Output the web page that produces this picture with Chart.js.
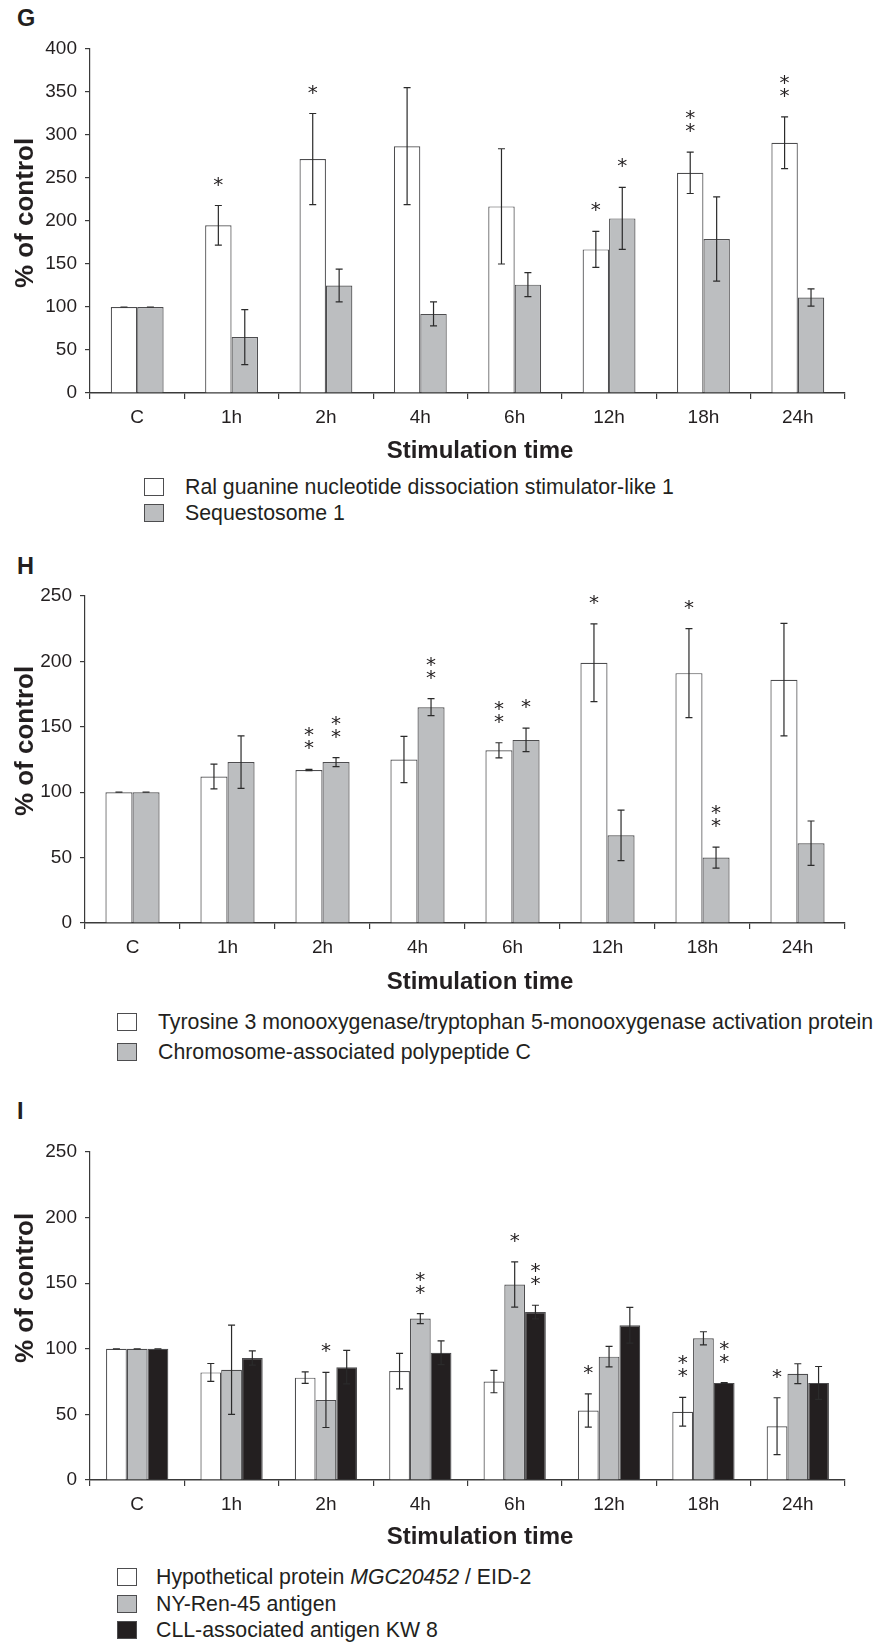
<!DOCTYPE html>
<html>
<head>
<meta charset="utf-8">
<title>Stimulation time course</title>
<script src="https://cdn.jsdelivr.net/npm/chart.js@4.4.1/dist/chart.umd.min.js"></script>
<style>
  body { margin: 0; background: #fff; }
  #page { position: relative; width: 877px; height: 1642px; overflow: hidden;
          font-family: 'Liberation Sans', Arial, sans-serif; color: #231f20; }
  .letter { position: absolute; left: 17px; font: bold 23.5px/1 'Liberation Sans', Arial, sans-serif; }
  #page canvas { position: absolute; left: 0; }
  .legend-row { position: absolute; height: 22px; display: flex; align-items: center;
                white-space: nowrap; font-size: 21.3px; line-height: 22px; }
  .legend-box { width: 20px; height: 18px; box-sizing: border-box; border: 1.3px solid #4d4d4f; }
</style>
</head>
<body>
<div id="page">
  <div class="letter" style="top:7px">G</div>
  <canvas id="chartG"></canvas>
  <div class="letter" style="top:555px">H</div>
  <canvas id="chartH"></canvas>
  <div class="letter" style="top:1100px">I</div>
  <canvas id="chartI"></canvas>
</div>
<script>
const timepoints = ['C', '1h', '2h', '4h', '6h', '12h', '18h', '24h'];

// panel G
const yTicksG = [0, 50, 100, 150, 200, 250, 300, 350, 400];
const ralgdsMean  = [100, 195, 272, 287, 217, 167, 256, 291];
const ralgdsSd    = [0, 23, 53, 68, 67, 21, 24, 30];
const ralgdsStars = [0, 1, 1, 0, 0, 1, 2, 2];
const sqstmMean   = [100, 65, 125, 92, 126, 203, 179, 111];
const sqstmSd     = [0, 32, 19, 14, 14, 36, 49, 10];
const sqstmStars  = [0, 0, 0, 0, 0, 1, 0, 0];

// panel H
const yTicksH = [0, 50, 100, 150, 200, 250];
const ywhazMean  = [100, 112, 117, 125, 132, 199, 191, 186];
const ywhazSd    = [0, 9.5, 0.5, 17.7, 5.8, 29.7, 34, 43];
const ywhazStars = [0, 0, 2, 0, 2, 1, 1, 0];
const capcMean   = [100, 123, 123, 165, 140, 67, 50, 61];
const capcSd     = [0, 20, 3.5, 6.5, 9, 19.3, 8, 17];
const capcStars  = [0, 0, 2, 2, 1, 0, 2, 0];

// panel I
const yTicksI = [0, 50, 100, 150, 200, 250];
const eid2Mean    = [100, 82, 78, 83, 75, 53, 52, 41];
const eid2Sd      = [0, 6.8, 4.4, 13.5, 8.5, 12.7, 11, 21.7];
const eid2Stars   = [0, 0, 0, 0, 0, 1, 2, 1];
const nyrenMean   = [100, 84, 61, 123, 149, 94, 108, 81];
const nyrenSd     = [0, 34, 21, 3.8, 17.3, 7.8, 5, 7.6];
const nyrenStars  = [0, 0, 1, 2, 1, 0, 0, 0];
const kw8Mean     = [100, 93, 86, 97, 128, 118, 74, 74];
const kw8Sd       = [0, 5.4, 12.8, 9, 5.2, 13.6, 0.3, 12.5];
const kw8Stars    = [0, 0, 0, 0, 2, 0, 2, 0];

const WHITE = '#ffffff', GREY = '#bcbec0', BLACK = '#231f20';
const INK = '#231f20';

Chart.defaults.font.family = "'Liberation Sans', Arial, sans-serif";
Chart.defaults.color = INK;

// whiskers (mean +/- SD) and significance asterisks above them
const errorBars = {
  id: 'errorBars',
  afterDatasetsDraw(chart) {
    const ctx = chart.ctx, y = chart.scales.y;
    ctx.save();
    chart.data.datasets.forEach((ds, i) => {
      chart.getDatasetMeta(i).data.forEach((bar, j) => {
        const hi = y.getPixelForValue(ds.data[j] + ds.sd[j]);
        const lo = y.getPixelForValue(ds.data[j] - ds.sd[j]);
        ctx.strokeStyle = '#2b2b2b';
        ctx.lineWidth = 1.2;
        ctx.beginPath();
        ctx.moveTo(bar.x, hi); ctx.lineTo(bar.x, lo);
        ctx.moveTo(bar.x - 3.5, hi); ctx.lineTo(bar.x + 3.5, hi);
        ctx.moveTo(bar.x - 3.5, lo); ctx.lineTo(bar.x + 3.5, lo);
        ctx.stroke();

        ctx.fillStyle = INK;
        ctx.font = '20px "DejaVu Sans"';
        ctx.textAlign = 'center';
        ctx.textBaseline = 'alphabetic';
        for (let k = 0; k < ds.stars[j]; k++) {
          const cy = hi - 26 - k * 13;
          ctx.fillText('*', bar.x, cy + 11);
        }
      });
    });
    ctx.restore();
  }
};

// axis captions: vertical one left of the ticks, horizontal one under the labels
const captions = {
  id: 'captions',
  afterDraw(chart, args, opts) {
    const ctx = chart.ctx;
    ctx.save();
    ctx.fillStyle = INK;
    ctx.textAlign = 'center';
    ctx.textBaseline = 'middle';

    ctx.font = 'bold 24px "Liberation Sans", Arial, sans-serif';
    ctx.fillText(opts.xText, opts.xTitleX, opts.xTitleY);

    ctx.font = 'bold 26px "Liberation Sans", Arial, sans-serif';
    ctx.translate(opts.yTitleX, opts.yTitleY);
    ctx.rotate(-Math.PI / 2);
    ctx.fillText(opts.yText, 0, 0);
    ctx.restore();
  }
};

function drawPanel(id, p) {
  const canvas = document.getElementById(id);
  const top = p.plotTop - 20;
  const height = p.bottom - top;
  canvas.width = 877;
  canvas.height = height;
  canvas.style.top = top + 'px';
  canvas.style.width = '877px';
  canvas.style.height = height + 'px';

  new Chart(canvas, {
    type: 'bar',
    data: {
      labels: timepoints,
      datasets: p.series.map(s => ({
        label: s.label,
        data: s.mean,
        sd: s.sd,
        stars: s.stars,
        backgroundColor: s.fill,
        borderColor: '#4d4d4f',
        borderWidth: 1.2,
        categoryPercentage: p.groupWidth,
        barPercentage: 1
      }))
    },
    options: {
      responsive: false,
      animation: false,
      devicePixelRatio: 1,
      layout: { padding: { top: 20, right: 877 - p.plotRight, left: 0, bottom: 0 } },
      plugins: {
        legend: { display: false },
        tooltip: { enabled: false },
        captions: {
          xText: 'Stimulation time', xTitleX: 480, xTitleY: p.captionY - top,
          yText: '% of control', yTitleX: 25.5, yTitleY: p.yTitleY - top
        }
      },
      scales: {
        x: {
          afterFit: s => { s.height = p.bottom - p.plotBottom; },
          border: { color: '#3a3a3a', width: 1.5 },
          grid: { offset: true, drawOnChartArea: false, drawTicks: true, tickLength: 6, color: '#3a3a3a', lineWidth: 1.2 },
          ticks: { font: { size: 19 }, color: INK, padding: 7 }
        },
        y: {
          min: 0,
          max: p.yTicks[p.yTicks.length - 1],
          afterBuildTicks: s => { s.ticks = p.yTicks.map(v => ({ value: v })); },
          afterFit: s => { s.width = p.plotLeft; },
          border: { color: '#3a3a3a', width: 1.2 },
          grid: { drawOnChartArea: false, drawTicks: true, tickLength: 5, color: '#3a3a3a', lineWidth: 1.2 },
          ticks: { font: { size: 19 }, color: INK, padding: 8 }
        }
      }
    },
    plugins: [errorBars, captions]
  });

  // legend rows below the axis caption
  const page = document.getElementById('page');
  p.series.forEach((s, i) => {
    const row = document.createElement('div');
    row.className = 'legend-row';
    row.style.left = p.legend.left + 'px';
    row.style.top = (p.legend.rows[i] - 11) + 'px';
    const box = document.createElement('span');
    box.className = 'legend-box';
    box.style.background = s.fill;
    const text = document.createElement('span');
    text.style.marginLeft = p.legend.gap + 'px';
    text.innerHTML = s.label;
    row.appendChild(box);
    row.appendChild(text);
    page.appendChild(row);
  });
}

drawPanel('chartG', {
  bottom: 470, plotTop: 49, plotBottom: 393, plotLeft: 90, plotRight: 845, captionY: 451, yTitleY: 213,
  yTicks: yTicksG, groupWidth: 0.56,
  legend: { left: 144, gap: 21, rows: [487, 513] },
  series: [
    { label: 'Ral guanine nucleotide dissociation stimulator-like 1', mean: ralgdsMean, sd: ralgdsSd, stars: ralgdsStars, fill: WHITE },
    { label: 'Sequestosome 1', mean: sqstmMean, sd: sqstmSd, stars: sqstmStars, fill: GREY }
  ]
});

drawPanel('chartH', {
  bottom: 1000, plotTop: 596, plotBottom: 923, plotLeft: 85, plotRight: 845, captionY: 982, yTitleY: 741,
  yTicks: yTicksH, groupWidth: 0.57,
  legend: { left: 117, gap: 21, rows: [1022, 1052] },
  series: [
    { label: 'Tyrosine 3 monooxygenase/tryptophan 5-monooxygenase activation protein', mean: ywhazMean, sd: ywhazSd, stars: ywhazStars, fill: WHITE },
    { label: 'Chromosome-associated polypeptide C', mean: capcMean, sd: capcSd, stars: capcStars, fill: GREY }
  ]
});

drawPanel('chartI', {
  bottom: 1555, plotTop: 1152, plotBottom: 1480, plotLeft: 90, plotRight: 845, captionY: 1537, yTitleY: 1288,
  yTicks: yTicksI, groupWidth: 0.66,
  legend: { left: 117, gap: 19, rows: [1577, 1604, 1630] },
  series: [
    { label: 'Hypothetical protein <i>MGC20452</i> / EID-2', mean: eid2Mean, sd: eid2Sd, stars: eid2Stars, fill: WHITE },
    { label: 'NY-Ren-45 antigen', mean: nyrenMean, sd: nyrenSd, stars: nyrenStars, fill: GREY },
    { label: 'CLL-associated antigen KW 8', mean: kw8Mean, sd: kw8Sd, stars: kw8Stars, fill: BLACK }
  ]
});
</script>
</body>
</html>
